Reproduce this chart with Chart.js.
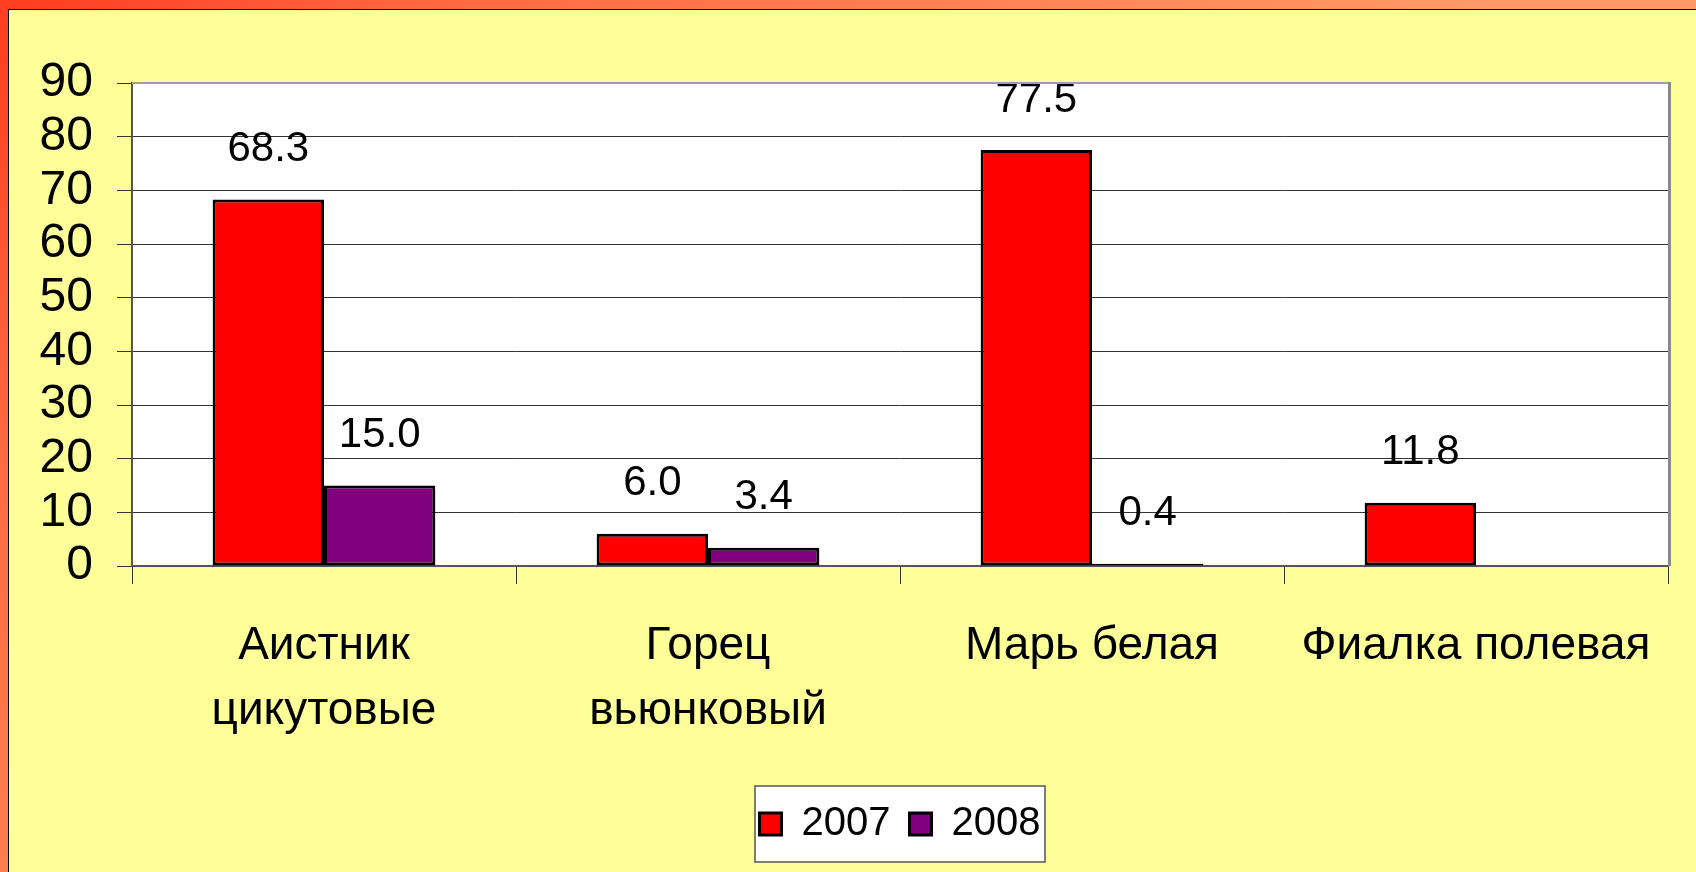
<!DOCTYPE html>
<html>
<head>
<meta charset="utf-8">
<script src="https://cdn.jsdelivr.net/npm/chart.js@4/dist/chart.umd.min.js"></script>
<style>
    html, body { margin: 0; padding: 0; }
    body {
        width: 1696px;
        height: 872px;
        overflow: hidden;
        position: relative;
        background: radial-gradient(circle at 0 0, #ff3c20 0px, #ff6a42 450px, #ff9a68 1500px);
    }
    #slide {
        position: absolute;
        left: 8px;
        top: 9px;
        width: 1688px;
        height: 863px;
        background: #ffff99;
        border-left: 1px solid #000;
        border-top: 1px solid #000;
    }
    canvas { display: block; }
</style>
</head>
<body>
<div id="slide">
    <canvas id="chartCanvas" width="1687" height="862"></canvas>
</div>
<script>
const categories = [['Аистник', 'цикутовые'], ['Горец', 'вьюнковый'], 'Марь белая', 'Фиалка полевая'];
const seriesNames = ['2007', '2008'];
const values2007 = [68.3, 6.0, 77.5, 11.8];
const values2008 = [15.0, 3.4, 0.4, null];
const yMin = 0;
const yMax = 90;
const yStep = 10;

const FONT = '"Liberation Sans", Arial, sans-serif';

// white plot area + grey frame like the old excel chart
const plotFrame = {
    id: 'plotFrame',
    beforeDraw(chart) {
        const { ctx, chartArea: a } = chart;
        ctx.save();
        ctx.fillStyle = '#ffffff';
        ctx.fillRect(a.left, a.top, a.right - a.left, a.bottom - a.top);
        ctx.restore();
    },
    afterDraw(chart) {
        const { ctx, chartArea: a } = chart;
        ctx.save();
        ctx.strokeStyle = '#a0a0a0';
        ctx.lineWidth = 2;
        ctx.beginPath();
        ctx.moveTo(a.left, a.top);
        ctx.lineTo(a.right, a.top);
        ctx.stroke();
        ctx.strokeStyle = '#8a8a8a';
        ctx.lineWidth = 3;
        ctx.beginPath();
        ctx.moveTo(a.right + 1.5, a.top - 1);
        ctx.lineTo(a.right + 1.5, a.bottom);
        ctx.stroke();
        ctx.restore();
    }
};

// legend sits in a white box
const legendBox = {
    id: 'legendBox',
    beforeDraw(chart) {
        const lg = chart.legend;
        if (!lg) return;
        const cx = (lg.left + lg.right) / 2;
        const cy = lg.top + 39;
        const { ctx } = chart;
        ctx.save();
        ctx.fillStyle = '#ffffff';
        ctx.fillRect(cx - 145, cy - 38, 290, 76);
        ctx.strokeStyle = '#555';
        ctx.lineWidth = 1.5;
        ctx.strokeRect(cx - 145, cy - 38, 290, 76);
        ctx.restore();
    }
};

const valueLabels = {
    id: 'valueLabels',
    afterDatasetsDraw(chart) {
        const { ctx } = chart;
        ctx.save();
        ctx.font = '42px ' + FONT;
        ctx.fillStyle = '#000';
        ctx.textAlign = 'center';
        ctx.textBaseline = 'middle';
        chart.data.datasets.forEach((ds, i) => {
            chart.getDatasetMeta(i).data.forEach((bar, j) => {
                const v = ds.data[j];
                if (v == null) return;
                ctx.fillText(v.toFixed(1), bar.x, bar.y - 50);
            });
        });
        ctx.restore();
    }
};

new Chart(document.getElementById('chartCanvas'), {
    type: 'bar',
    data: {
        labels: categories,
        datasets: [
            {
                label: seriesNames[0],
                data: values2007,
                backgroundColor: '#ff0000',
                borderColor: '#000000',
                borderWidth: 3,
                borderSkipped: false,
            },
            {
                label: seriesNames[1],
                data: values2008,
                backgroundColor: '#800080',
                borderColor: '#000000',
                borderWidth: 3,
                borderSkipped: false,
            },
        ],
    },
    options: {
        responsive: false,
        animation: false,
        devicePixelRatio: 1,
        layout: {
            padding: { top: 73, right: 28, bottom: 18, left: 0 },
        },
        datasets: {
            bar: {
                categoryPercentage: 0.58,
                barPercentage: 1.0,
            },
        },
        plugins: {
            legend: {
                position: 'bottom',
                fullSize: false,
                labels: {
                    color: '#000',
                    font: { family: FONT, size: 40 },
                    boxWidth: 22,
                    boxHeight: 22,
                    padding: 19,
                },
            },
            tooltip: { enabled: false },
        },
        scales: {
            x: {
                grid: {
                    drawOnChartArea: false,
                    color: '#333',
                    tickLength: 18,
                },
                border: { color: '#555', width: 2 },
                ticks: {
                    color: '#000',
                    padding: 30,
                    maxRotation: 0,
                    autoSkip: false,
                    font: { family: FONT, size: 46, lineHeight: 1.41 },
                },
                afterFit(scale) {
                    scale.height = 219;
                },
            },
            y: {
                min: yMin,
                max: yMax,
                ticks: {
                    stepSize: yStep,
                    autoSkip: false,
                    color: '#000',
                    padding: 24,
                    font: { family: FONT, size: 48 },
                },
                grid: {
                    color: '#333',
                    lineWidth: 1,
                    tickLength: 15,
                },
                border: { color: '#555', width: 2 },
                afterFit(scale) {
                    scale.width = 123;
                },
            },
        },
    },
    plugins: [plotFrame, legendBox, valueLabels],
});
</script>
</body>
</html>
